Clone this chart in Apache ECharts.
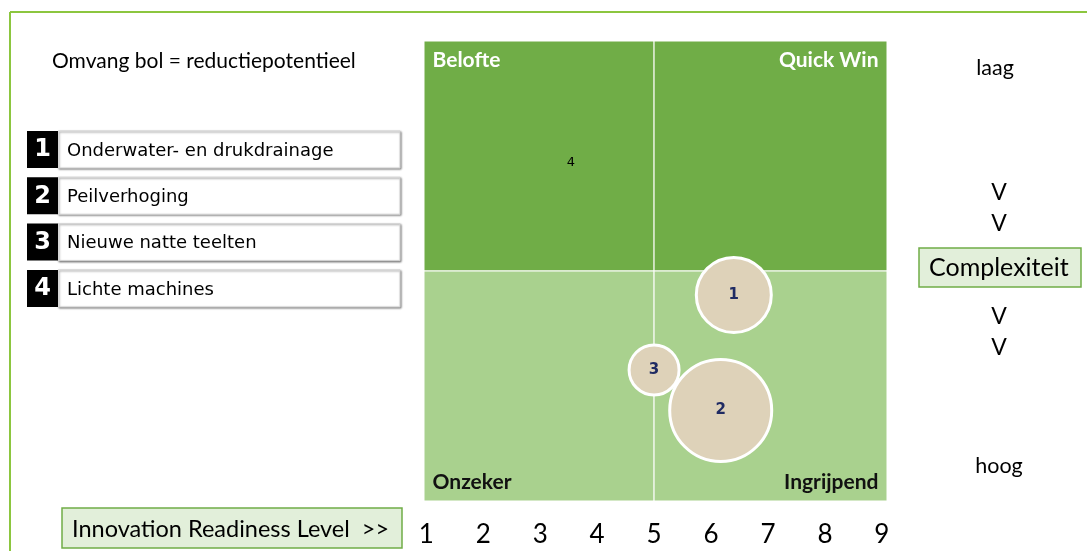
<!DOCTYPE html>
<html>
<head>
<meta charset="utf-8">
<script src="https://cdn.jsdelivr.net/npm/echarts@6/dist/echarts.min.js"></script>
<style>
  html, body { margin: 0; padding: 0; background: #fff; }
  #chart { width: 1087px; height: 551px; }
</style>
</head>
<body>
<div id="chart"></div>
<script>
// maatregelen (legenda links)
var measures = ['Onderwater- en drukdrainage', 'Peilverhoging', 'Nieuwe natte teelten', 'Lichte machines'];
var bubbleIds = ['1', '2', '3', '4'];
// Innovation Readiness Level (x), complexiteit (y: hoog = 0, laag = 10), omvang bol
var irl = [6.4, 6.17, 5.0, 3.54];
var complexity = [4.48, 1.97, 2.85, 7.35];
var potential = [75, 102, 50, 0];
var xTicks = [1, 2, 3, 4, 5, 6, 7, 8, 9];
var quadrantNames = ['Belofte', 'Quick Win', 'Onzeker', 'Ingrijpend'];

var X_MIN = 0.96, X_MAX = 9.09, X_MID = 5;
var Y_MIN = 0, Y_MAX = 10, Y_MID = 5;

var myChart = echarts.init(document.getElementById('chart'));

var bubbleData = [];
for (var i = 0; i < bubbleIds.length; i++) {
    var d = { name: measures[i], value: [irl[i], complexity[i], potential[i], bubbleIds[i]] };
    if (potential[i] === 0) {
        d.label = { color: '#000', fontWeight: 'normal', fontSize: 13, fontFamily: 'DejaVu Sans' };
    }
    bubbleData.push(d);
}

function quadLabel(pos, color) {
    return {
        show: true, position: pos, color: color, fontWeight: 'bold', fontSize: 21,
        fontFamily: 'Lato', distance: 9
    };
}

// tekst met middelpunt (x,y)
function txt(str, x, y, size, align) {
    return {
        type: 'text', x: x, y: y,
        style: { text: str, fontSize: size, fontFamily: 'Lato', fill: '#000', align: align || 'center', verticalAlign: 'middle' }
    };
}

var graphics = [
    // kader
    { type: 'line', shape: { x1: 10, y1: 12, x2: 1087, y2: 12 }, style: { stroke: '#8cc63f', lineWidth: 2 } },
    { type: 'line', shape: { x1: 10, y1: 12, x2: 10, y2: 551 }, style: { stroke: '#8cc63f', lineWidth: 2 } },
    txt('Omvang bol = reductiepotentieel', 52, 61, 21, 'left'),
    // rechts
    txt('laag', 995, 68, 21.5),
    txt('V', 999, 193, 23),
    txt('V', 999, 224, 23),
    { type: 'rect', shape: { x: 919, y: 248, width: 162, height: 39 }, style: { fill: '#e2efda', stroke: '#70ad47', lineWidth: 1.5 } },
    txt('Complexiteit', 929, 268, 25, 'left'),
    txt('V', 999, 317, 23),
    txt('V', 999, 348, 23),
    txt('hoog', 999, 466, 21.5),
    // onder
    { type: 'rect', shape: { x: 62, y: 508, width: 340, height: 40 }, style: { fill: '#e2efda', stroke: '#70ad47', lineWidth: 1.5 } },
    txt('Innovation Readiness Level  >>', 72, 529, 23.5, 'left')
];

// legenda links
for (var k = 0; k < measures.length; k++) {
    var y0 = 131 + k * 46.3;
    graphics.push({
        type: 'rect', shape: { x: 58, y: y0, width: 342, height: 37 },
        style: { fill: '#fff', stroke: '#d4d4d4', lineWidth: 1, shadowColor: 'rgba(0,0,0,0.45)', shadowBlur: 2, shadowOffsetX: 1, shadowOffsetY: 1 }
    });
    graphics.push({ type: 'rect', shape: { x: 27, y: y0, width: 31, height: 37 }, style: { fill: '#000' } });
    graphics.push({
        type: 'text', x: 42.5, y: y0 + 19,
        style: { text: bubbleIds[k], fontSize: 24, fontWeight: 'bold', fontFamily: 'DejaVu Sans', fill: '#fff', align: 'center', verticalAlign: 'middle' }
    });
    graphics.push({
        type: 'text', x: 67, y: y0 + 20,
        style: { text: measures[k], fontSize: 18, fontFamily: 'DejaVu Sans', fill: '#000', verticalAlign: 'middle' }
    });
}

var option = {
    animation: false,
    backgroundColor: '#fff',
    grid: { left: 424, right: 200, top: 41, bottom: 50 },
    xAxis: {
        type: 'value', min: X_MIN, max: X_MAX,
        axisLine: { show: false }, axisTick: { show: false }, splitLine: { show: false },
        axisLabel: { customValues: xTicks, fontSize: 26, fontFamily: 'Lato', color: '#000', margin: 21 }
    },
    yAxis: {
        type: 'value', min: Y_MIN, max: Y_MAX, show: false, splitLine: { show: false }
    },
    graphic: graphics,
    series: [{
        type: 'scatter',
        data: bubbleData,
        symbolSize: function (val) { return val[2]; },
        itemStyle: { color: '#ded2b9', borderColor: '#fff', borderWidth: 3, opacity: 1 },
        label: {
            show: true, position: 'inside',
            formatter: function (p) { return p.value[3]; },
            color: '#1f2b63', fontWeight: 'bold', fontSize: 15, fontFamily: 'DejaVu Sans'
        },
        markArea: {
            silent: true,
            z: 0,
            itemStyle: { borderColor: '#fff', borderWidth: 1 },
            data: [
                [{ name: quadrantNames[0], coord: [X_MIN, Y_MID], itemStyle: { color: '#70ad47' }, label: quadLabel('insideTopLeft', '#fff') }, { coord: [X_MID, Y_MAX] }],
                [{ name: quadrantNames[1], coord: [X_MID, Y_MID], itemStyle: { color: '#70ad47' }, label: quadLabel('insideTopRight', '#fff') }, { coord: [X_MAX, Y_MAX] }],
                [{ name: quadrantNames[2], coord: [X_MIN, Y_MIN], itemStyle: { color: '#a9d18e' }, label: quadLabel('insideBottomLeft', '#111') }, { coord: [X_MID, Y_MID] }],
                [{ name: quadrantNames[3], coord: [X_MID, Y_MIN], itemStyle: { color: '#a9d18e' }, label: quadLabel('insideBottomRight', '#111') }, { coord: [X_MAX, Y_MID] }]
            ]
        }
    }]
};

option && myChart.setOption(option);
</script>
</body>
</html>
